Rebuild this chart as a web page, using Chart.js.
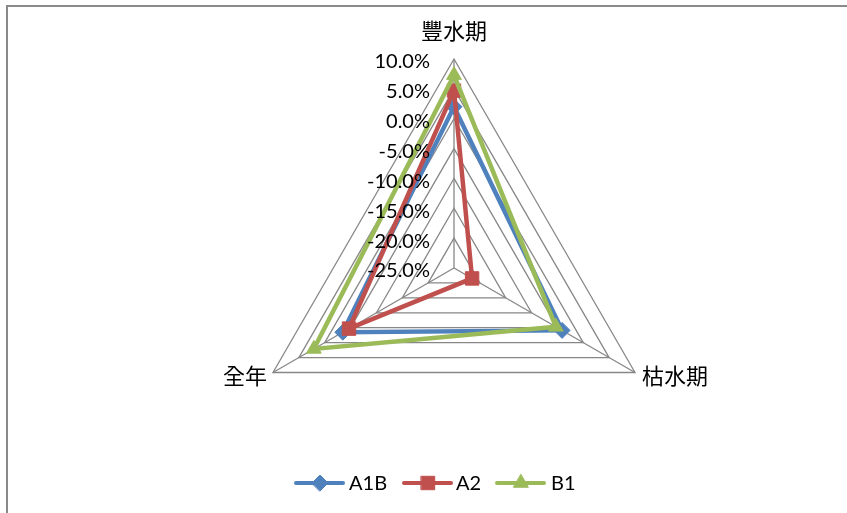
<!DOCTYPE html>
<html>
<head>
<meta charset="utf-8">
<script src="https://cdn.jsdelivr.net/npm/chart.js@4.4.1/dist/chart.umd.min.js"></script>
<style>
  html, body { margin: 0; padding: 0; background: #fff; }
  #wrap { position: relative; width: 847px; height: 513px; overflow: hidden; }
  #frame { position: absolute; left: 6px; top: 5px; width: 900px; height: 600px;
           border-left: 2px solid #8a8a8a; border-top: 2px solid #8a8a8a; }
  canvas { position: absolute; left: 0; top: 0; }
</style>
</head>
<body>
<div id="wrap">
  <div id="frame"></div>
  <canvas id="c" width="847" height="513"></canvas>
</div>
<script>
// Seasonal change (%) per scenario
const categories = ['豐水期', '枯水期', '全年'];
const seriesA1B = [2.0, -4.1, -3.5];
const seriesA2  = [4.7, -21.5, -4.7];
const seriesB1  = [7.3, -5.3, 2.1];
const tickValues = [10, 5, 0, -5, -10, -15, -20, -25];
const tickLabels = ['10.0%', '5.0%', '0.0%', '-5.0%', '-10.0%', '-15.0%', '-20.0%', '-25.0%'];

const BLUE = '#4F81BD', RED = '#C0504D', GREEN = '#9BBB59';
const NUM_FONT = '20px Lato, "Liberation Sans", sans-serif';
const CJK_FONT = '22px "Noto Sans CJK TC", "Noto Sans CJK SC", sans-serif';

// Fix the radar's centre and radius so the web sits where it should
const placeRadar = {
  id: 'placeRadar',
  afterLayout(chart) {
    const s = chart.scales.r;
    s.xCenter = 454;
    s.yCenter = 268;
    s.drawingArea = 209;
  }
};

// Tick labels, axis names and the line-and-marker legend
const extras = {
  id: 'extras',
  afterDraw(chart) {
    const ctx = chart.ctx;
    const s = chart.scales.r;
    ctx.save();
    ctx.fillStyle = '#000';

    // value labels along the upper spoke
    ctx.font = NUM_FONT;
    ctx.textAlign = 'right';
    ctx.textBaseline = 'middle';
    tickValues.forEach((v, i) => {
      const p = s.getPointPositionForValue(0, v);
      ctx.fillText(tickLabels[i], s.xCenter - 24, p.y + 3);
    });

    // axis names
    ctx.font = CJK_FONT;
    ctx.textBaseline = 'middle';
    const top = s.getPointPositionForValue(0, s.max);
    ctx.textAlign = 'center';
    ctx.fillText(categories[0], top.x, top.y - 28);
    const br = s.getPointPositionForValue(1, s.max);
    ctx.textAlign = 'left';
    ctx.fillText(categories[1], br.x + 7, br.y + 3);
    const bl = s.getPointPositionForValue(2, s.max);
    ctx.textAlign = 'right';
    ctx.fillText(categories[2], bl.x - 6, bl.y + 3);

    // legend
    const items = [
      { x: 296, tx: 349 },
      { x: 404, tx: 456 },
      { x: 497, tx: 551 }
    ];
    const ly = 483;
    chart.data.datasets.forEach((ds, i) => {
      const it = items[i];
      ctx.strokeStyle = ds.borderColor;
      ctx.lineWidth = 4;
      ctx.lineCap = 'round';
      ctx.beginPath();
      ctx.moveTo(it.x, ly);
      ctx.lineTo(it.x + 47, ly);
      ctx.stroke();
      ctx.fillStyle = ds.pointBackgroundColor;
      ctx.strokeStyle = ds.pointBorderColor;
      ctx.lineWidth = 1;
      Chart.helpers.drawPoint(ctx, {
        pointStyle: ds.pointStyle,
        radius: ds.pointRadius,
        rotation: 0,
        borderWidth: 1
      }, it.x + 24, ly);
      ctx.fillStyle = '#000';
      ctx.font = NUM_FONT;
      ctx.textAlign = 'left';
      ctx.textBaseline = 'middle';
      ctx.fillText(ds.label, it.tx, ly + 1);
    });
    ctx.restore();
  }
};

function series(label, data, color, style, radius, order) {
  return {
    label, data, order,
    borderColor: color,
    backgroundColor: color,
    borderWidth: 4.5,
    fill: false,
    tension: 0,
    pointStyle: style,
    pointRadius: radius,
    pointBackgroundColor: color,
    pointBorderColor: color,
    pointBorderWidth: 1
  };
}

new Chart(document.getElementById('c'), {
  type: 'radar',
  data: {
    labels: categories,
    datasets: [
      series('A1B', seriesA1B, BLUE, 'rectRot', 8, 3),
      series('A2', seriesA2, RED, 'rect', 9.5, 2),
      series('B1', seriesB1, GREEN, 'triangle', 8.5, 1)
    ]
  },
  options: {
    responsive: false,
    animation: false,
    events: [],
    plugins: { legend: { display: false }, tooltip: { enabled: false } },
    scales: {
      r: {
        min: -25,
        max: 10,
        ticks: { stepSize: 5, display: false },
        grid: { color: '#878787', lineWidth: 1.3 },
        angleLines: { color: '#878787', lineWidth: 1.3 },
        pointLabels: { display: false }
      }
    }
  },
  plugins: [placeRadar, extras]
});
</script>
</body>
</html>
